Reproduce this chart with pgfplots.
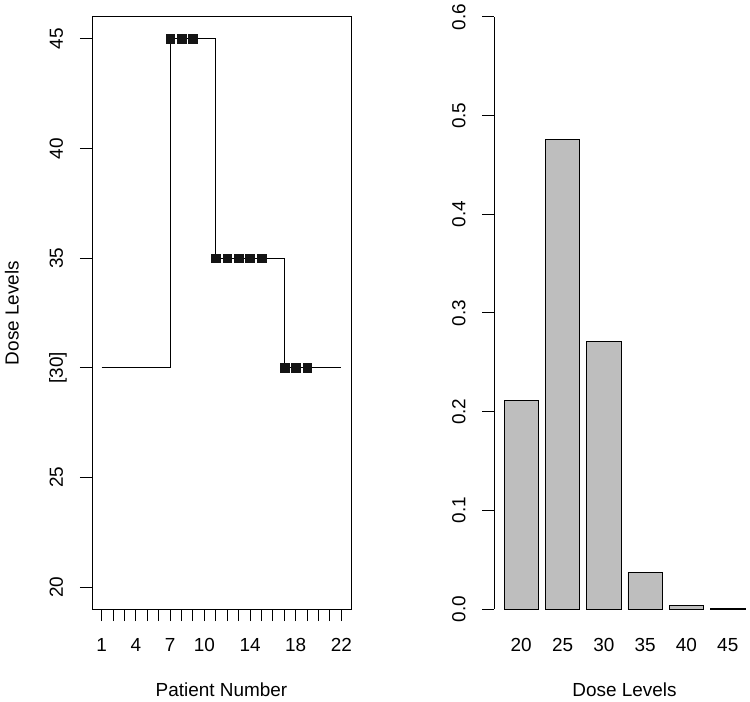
\documentclass[border=0pt]{standalone}
\usepackage{pgfplots}
\pgfplotsset{compat=1.18}
\usepackage{fontspec}
\setmainfont{Liberation Sans}

\definecolor{bargray}{RGB}{190,190,190}
\definecolor{markblack}{RGB}{20,20,20}

\begin{document}
\fontsize{19}{23}\selectfont
\begin{tikzpicture}
    \useasboundingbox (0,0) rectangle (750bp,702bp);
    \pgfplotsset{
        rbase/.style={
                scale only axis,
                anchor=south west,
                height=592bp,
                tick align=outside,
                major tick length=12bp,
                tick style={line width=1bp, black},
                /pgf/number format/assume math mode=true,
                xticklabel style={anchor=north, inner sep=0pt, outer sep=0pt},
                xticklabel shift=17.6bp,
                yticklabel style={rotate=90, anchor=base, inner sep=0pt, outer sep=0pt},
                yticklabel shift=17bp,
                xlabel style={at={(axis description cs:0.5,-0.1368)}, anchor=center},
            },
    }

    % left: dose given to each patient
    \begin{axis}[
            rbase,
            at={(92bp,93bp)},
            width=259bp,
            axis line style={line width=1bp},
            tick pos=left,
            xmin=0.16, xmax=22.84,
            ymin=19, ymax=46,
            xtick={1,...,22},
            xticklabels={1,,,4,,,7,,,10,,,,14,,,,18,,,,22},
            ytick={20,25,30,35,40,45},
            yticklabels={20,25,[30],35,40,45},
            xlabel={Patient Number},
            ylabel={Dose Levels},
            ylabel style={at={(axis description cs:-0.309,0.5)}, anchor=center},
        ]
        \addplot [const plot, black, line width=0.9bp]
        coordinates {
                (1,30) (2,30) (3,30) (4,30) (5,30) (6,30)
                (7,45) (8,45) (9,45) (10,45)
                (11,35) (12,35) (13,35) (14,35) (15,35) (16,35)
                (17,30) (18,30) (19,30) (20,30) (21,30) (22,30)
            };
        \addplot [only marks, mark=square*, mark size=4.4bp, markblack]
        coordinates {
                (7,45) (8,45) (9,45)
                (11,35) (12,35) (13,35) (14,35) (15,35)
                (17,30) (18,30) (19,30)
            };
    \end{axis}

    % right: recommendation probabilities
    \begin{axis}[
            rbase,
            at={(494.4bp,93bp)},
            width=260.2bp,
            clip=false,
            axis x line*=bottom,
            axis y line*=left,
            x axis line style={draw=none},
            y axis line style={-, line width=1bp},
            xmin=-0.08, xmax=7.48,
            ymin=0, ymax=0.6,
            xtick={0.7,1.9,3.1,4.3,5.5,6.7},
            xticklabels={20,25,30,35,40,45},
            xtick style={draw=none},
            ytick={0,0.1,0.2,0.3,0.4,0.5,0.6},
            yticklabels={0.0,0.1,0.2,0.3,0.4,0.5,0.6},
            xlabel={Dose Levels},
        ]
        \addplot [ybar, bar width=1, fill=bargray, draw=black, line width=0.9bp]
        coordinates {
                (0.7,0.211) (1.9,0.4755) (3.1,0.271)
                (4.3,0.037) (5.5,0.004) (6.7,0.0005)
            };
    \end{axis}
\end{tikzpicture}
\end{document}
